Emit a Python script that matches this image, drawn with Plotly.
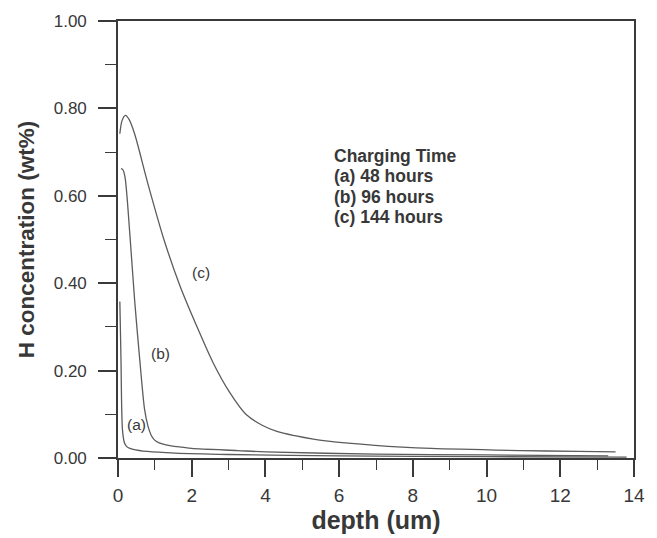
import plotly.graph_objects as go

# Data
depth_a = [0.05, 0.08, 0.12, 0.17, 0.21, 0.27, 0.41, 0.8, 1.56, 3.0, 6.0, 10.0, 13.8]
conc_a = [0.358, 0.230, 0.066, 0.036, 0.029, 0.024, 0.020, 0.015, 0.011, 0.008, 0.005, 0.003, 0.002]

depth_b = [0.08, 0.13, 0.19, 0.32, 0.45, 0.59, 0.72, 0.81, 0.90, 0.98, 1.1, 1.3, 1.6, 2.0, 3.25, 4.0, 7.0, 10.0, 13.3]
conc_b = [0.662, 0.660, 0.643, 0.514, 0.362, 0.225, 0.112, 0.074, 0.052, 0.042, 0.035, 0.030, 0.026, 0.022, 0.017,
          0.014, 0.009, 0.007, 0.005]

depth_c = [0.05, 0.11, 0.20, 0.30, 0.45, 0.81, 1.25, 1.69, 2.14, 2.58, 3.03, 3.47, 3.91, 4.31, 4.8, 5.3, 5.64,
           6.97, 8.5, 10.96, 12.5, 13.5]
conc_c = [0.742, 0.772, 0.784, 0.775, 0.742, 0.628, 0.499, 0.392, 0.301, 0.218, 0.150, 0.100, 0.075, 0.061,
          0.051, 0.043, 0.039, 0.029, 0.022, 0.017, 0.015, 0.014]

curve_labels = ["(a)", "(b)", "(c)"]
label_x = [0.51, 1.14, 2.25]
label_y = [0.076, 0.239, 0.424]

legend_lines = ["Charging Time", "(a) 48 hours", "(b) 96 hours", "(c) 144 hours"]
legend_y = [0.692, 0.645, 0.598, 0.551]
legend_x = 5.8

x_ticks = [0, 2, 4, 6, 8, 10, 12, 14]
y_ticks = [0.0, 0.2, 0.4, 0.6, 0.8, 1.0]
y_tick_text = ["0.00", "0.20", "0.40", "0.60", "0.80", "1.00"]
y_minor_ticks = [0.1, 0.3, 0.5, 0.7, 0.9]

line_col = "#5c5c5c"
axis_col = "#3a3a3a"
text_col = "#383838"
font = "Liberation Sans, Arial, sans-serif"

fig = go.Figure()
for xs, ys in [(depth_a, conc_a), (depth_b, conc_b), (depth_c, conc_c)]:
    fig.add_trace(go.Scatter(x=xs, y=ys, mode="lines",
                             line=dict(color=line_col, width=1.3, shape="spline", smoothing=0.8),
                             showlegend=False, hoverinfo="skip"))

for t, lx, ly in zip(curve_labels, label_x, label_y):
    fig.add_annotation(x=lx, y=ly, text=t, showarrow=False,
                       font=dict(family=font, size=15.5, color=text_col))

for t, ly in zip(legend_lines, legend_y):
    fig.add_annotation(x=legend_x, y=ly, xanchor="left", yanchor="middle", align="left",
                       text="<b>%s</b>" % t, showarrow=False,
                       font=dict(family=font, size=17.5, color=text_col))

fig.update_layout(
    width=657, height=538,
    margin=dict(l=118, r=12, t=21, b=79),
    paper_bgcolor="white", plot_bgcolor="white",
    font=dict(family=font, color=text_col),
    xaxis=dict(range=[0, 14], tickvals=x_ticks, ticks="outside", ticklen=17, tickwidth=1.6,
               tickcolor=axis_col, showline=True, linecolor=axis_col, linewidth=1.6,
               mirror=True, showgrid=False, zeroline=False, ticklabelstandoff=2,
               tickfont=dict(family=font, size=19, color=text_col),
               minor=dict(ticks="outside", ticklen=10, tickwidth=1.4, tickcolor=axis_col, dtick=1,
                          showgrid=False),
               title=dict(text="<b>depth (um)</b>", font=dict(family=font, size=25, color=text_col),
                          standoff=3)),
    yaxis=dict(range=[0, 1.0], tickvals=y_ticks, ticktext=y_tick_text, ticks="outside", ticklen=18,
               tickwidth=1.6, tickcolor=axis_col, showline=True, linecolor=axis_col, linewidth=1.6,
               mirror=True, showgrid=False, zeroline=False, ticklabelstandoff=8,
               tickfont=dict(family=font, size=17, color=text_col),
               minor=dict(ticks="outside", ticklen=11, tickwidth=1.4, tickcolor=axis_col,
                          tickvals=y_minor_ticks, showgrid=False),
               title=dict(text="<b>H concentration (wt%)</b>", font=dict(family=font, size=22.5, color=text_col),
                          standoff=13)),
)

fig.write_html("out.html", config={"displayModeBar": False},
               post_script="document.body.style.margin='0';document.body.style.overflow='hidden';")
